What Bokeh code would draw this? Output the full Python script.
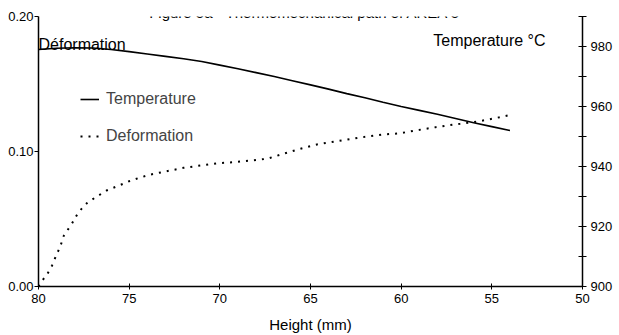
from bokeh.plotting import figure
from bokeh.models import (Range1d, LinearAxis, FixedTicker, Label, Legend,
                          LegendItem, NumeralTickFormatter)
from bokeh.embed import file_html
from bokeh.resources import INLINE

# Temperature along the sample height (°C)
height_temp = [80, 79, 78, 77, 76, 75, 74, 73, 72, 71, 70, 69, 68, 67,
               66, 65, 64, 63, 62, 61, 60, 59, 58, 57, 56, 55, 54]
temperature = [979.0, 979.4, 979.6, 979.5, 979.0, 978.3, 977.5, 976.7,
               975.9, 975.0, 973.8, 972.6, 971.3, 970.0, 968.6, 967.2,
               965.8, 964.3, 962.9, 961.4, 960.0, 958.7, 957.4, 956.0,
               954.6, 953.3, 952.0]

# Cumulative deformation along the sample height
height_def = [80.0, 79.9, 79.5, 79.25, 79.05, 78.8, 78.6, 78.15, 77.8,
              77.3, 76.75, 76.25, 75.65, 75.0, 74.45, 73.8, 72.0, 70.15,
              69.25, 68.3, 67.4, 66.5, 65.55, 64.65, 63.55, 62.4, 61.0,
              60.1, 59.2, 58.65, 58.1, 57.75, 57.1, 56.75, 55.8, 55.2,
              54.7, 54.1]
deformation = [0.000, 0.0024, 0.0096, 0.0156, 0.0222, 0.0296, 0.0378,
               0.0467, 0.0550, 0.0622, 0.0669, 0.0711, 0.0743, 0.0780,
               0.0805, 0.0830, 0.0879, 0.0913, 0.0921, 0.0933, 0.0946,
               0.0983, 0.1020, 0.1052, 0.1076, 0.1101, 0.1126, 0.1134,
               0.1156, 0.1168, 0.1180, 0.1187, 0.1200, 0.1205, 0.1222,
               0.1237, 0.1250, 0.1267]

height_ticks = [80, 75, 70, 65, 60, 55, 50]
def_ticks = [0.0, 0.10, 0.20]
temp_ticks = [900, 920, 940, 960, 980]
temp_minor_ticks = [910, 930, 950, 970, 990]

FONT = "Liberation Sans"

p = figure(width=619, height=335, output_backend="svg", toolbar_location=None,
           x_range=Range1d(80, 50), y_range=Range1d(0, 0.20),
           min_border_left=38, min_border_right=37,
           min_border_top=16, min_border_bottom=49)
p.outline_line_color = None
p.xgrid.visible = False
p.ygrid.visible = False
p.background_fill_color = "white"
p.border_fill_color = "white"

# bottom axis: height
xa = p.xaxis[0]
xa.ticker = FixedTicker(ticks=height_ticks, minor_ticks=[])
xa.major_tick_in = 3
xa.major_tick_out = 3
xa.major_label_standoff = 4
xa.major_label_text_font = FONT
xa.major_label_text_font_size = "13px"
xa.major_label_text_color = "black"
xa.axis_label = "Height (mm)"
xa.axis_label_text_font = FONT
xa.axis_label_text_font_size = "15px"
xa.axis_label_text_font_style = "normal"
xa.axis_label_text_color = "black"
xa.axis_label_standoff = 10
xa.axis_line_color = "black"
xa.axis_line_width = 1.5

# left axis: deformation
ya = p.yaxis[0]
ya.ticker = FixedTicker(ticks=def_ticks, minor_ticks=[])
ya.formatter = NumeralTickFormatter(format="0.00")
ya.major_tick_in = 0
ya.major_tick_out = 4
ya.major_label_standoff = 1
ya.major_label_text_font = FONT
ya.major_label_text_font_size = "13px"
ya.major_label_text_color = "black"
ya.axis_line_color = "black"
ya.axis_line_width = 1.5

# right axis: temperature
p.extra_y_ranges = {"temp": Range1d(900, 990)}
ra = LinearAxis(y_range_name="temp",
                ticker=FixedTicker(ticks=temp_ticks, minor_ticks=temp_minor_ticks))
ra.major_tick_in = 4
ra.major_tick_out = 4
ra.minor_tick_in = 4
ra.minor_tick_out = 4
ra.major_label_standoff = 4
ra.major_label_text_font = FONT
ra.major_label_text_font_size = "13px"
ra.major_label_text_color = "black"
ra.axis_line_color = "black"
ra.axis_line_width = 1.5
p.add_layout(ra, "right")

r_temp = p.line(height_temp, temperature, y_range_name="temp",
                line_color="black", line_width=1.6)
r_def = p.line(height_def, deformation, line_color="black",
               line_width=2, line_dash="2 6")

legend = Legend(items=[LegendItem(label="Temperature", renderers=[r_temp]),
                       LegendItem(label="Deformation", renderers=[r_def])],
                location=(42, 140), margin=0, padding=0,
                border_line_color=None, background_fill_alpha=0,
                label_text_font=FONT, label_text_font_size="16px",
                glyph_width=19, glyph_height=20, label_height=20,
                label_standoff=7, spacing=17)
p.add_layout(legend)

# chart title, sitting just above the plotting area
p.add_layout(Label(x=65.3, y=0.2026, text="Figure 5a - Thermomechanical path of AREA 5",
                   text_align="center", text_baseline="alphabetic",
                   text_font=FONT, text_font_size="15px", text_color="black"))
p.add_layout(Label(x=80, y=0.1793, text="Déformation", text_align="left",
                   text_baseline="alphabetic", text_font=FONT,
                   text_font_size="16px", text_color="black"))
p.add_layout(Label(x=52.04, y=0.1822, text="Temperature °C", text_align="right",
                   text_baseline="alphabetic", text_font=FONT,
                   text_font_size="16px", text_color="black"))

open("out.html", "w").write(file_html(p, INLINE))
